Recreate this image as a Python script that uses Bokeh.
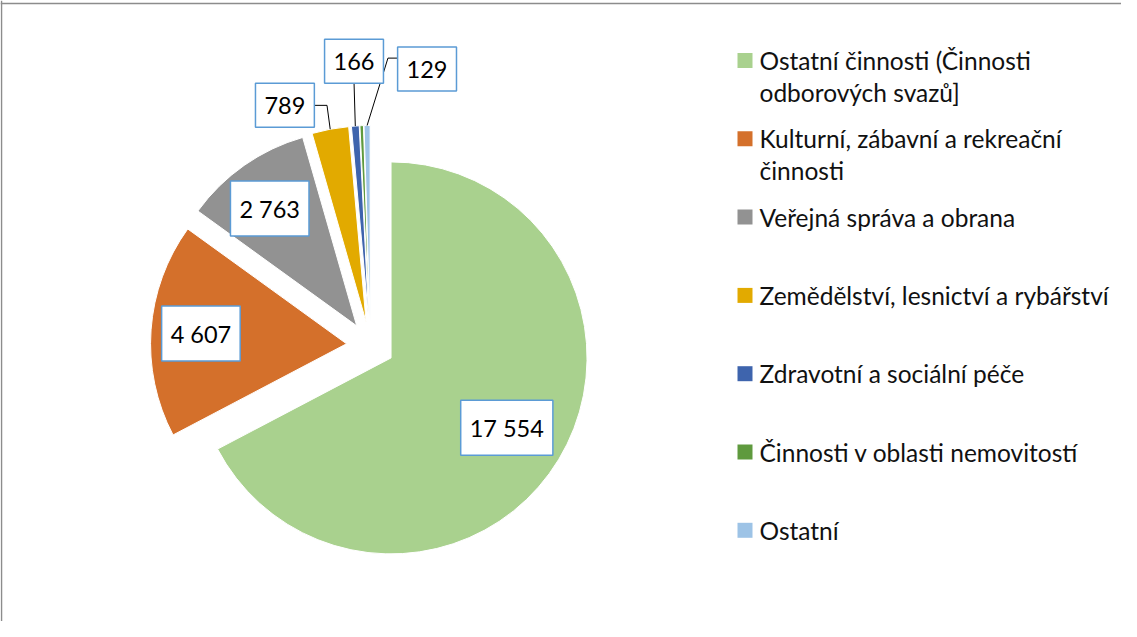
import math
import textwrap
from bokeh.plotting import figure
from bokeh.models import Range1d, Span
from bokeh.core.properties import value
from bokeh.embed import file_html
from bokeh.resources import INLINE

# ---------------- data ----------------
categories = [
    "Ostatní činnosti (Činnosti odborových svazů]",
    "Kulturní, zábavní a rekreační činnosti",
    "Veřejná správa a obrana",
    "Zemědělství, lesnictví a rybářství",
    "Zdravotní a sociální péče",
    "Činnosti v oblasti nemovitostí",
    "Ostatní",
]
values = [17554, 4607, 2763, 789, 166, 75, 129]
show_label = [True, True, True, True, True, False, True]

# ---------------- style ----------------
colors = ["#A9D18E", "#D4702B", "#929292", "#E2AA00", "#3E64AD", "#5F9A3E", "#9DC3E6"]
# label placement (radial fraction of radius, clockwise angular shift in degrees)
label_frac = [0.69, 0.745, 0.745, 1.18, 1.33, 1.3, 1.32]
label_shift = [0, 0, -1.5, -10, 0.7, 0, 13.6]

W, H = 1121, 621
CX, CY, R, EXPLODE = 370, 276, 196, 24
FONT = "Lato"
FS_LABEL = 23.5
FS_LEGEND = 24.5

p = figure(width=W, height=H, output_backend="svg", toolbar_location=None,
           x_range=Range1d(0, W), y_range=Range1d(0, H), min_border=0)
p.axis.visible = False
p.grid.visible = False
p.outline_line_color = None
p.background_fill_color = "white"
p.border_fill_color = "white"

# chart frame (left and top edges visible)
p.add_layout(Span(location=1, dimension="height", line_color="#8C8C8C", line_width=1.5))
p.add_layout(Span(location=H - 3, dimension="width", line_color="#8C8C8C", line_width=1.5))

total = float(sum(values))
cum = 0.0
wx, wy, sa, ea = [], [], [], []
lab_x, lab_y, lab_t = [], [], []
lead_xs, lead_ys = [], []
for i, v in enumerate(values):
    f = v / total
    a_start = 90 - 360 * cum          # math degrees
    a_end = 90 - 360 * (cum + f)
    mid = math.radians((a_start + a_end) / 2)
    ax = CX + EXPLODE * math.cos(mid)
    ay = CY + EXPLODE * math.sin(mid)
    wx.append(ax); wy.append(ay)
    sa.append(math.radians(a_end)); ea.append(math.radians(a_start))
    cum += f
    if not show_label[i]:
        continue
    la = mid - math.radians(label_shift[i])
    lx = ax + label_frac[i] * R * math.cos(la)
    ly = ay + label_frac[i] * R * math.sin(la)
    txt = f"{v:,}".replace(",", " ")
    lab_x.append(lx); lab_y.append(ly); lab_t.append(txt)
    if label_frac[i] > 1:
        ox = ax + R * math.cos(mid)
        oy = ay + R * math.sin(mid)
        hw = (len(txt) * 13.4 + 18) / 2
        hh = 20.5
        if abs(ox - lx) < hw:
            lead_xs.append([ox, lx]); lead_ys.append([oy, ly - hh])
        elif ox > lx:
            lead_xs.append([ox, lx + hw + 13, lx + hw]); lead_ys.append([oy, ly, ly])
        else:
            lead_xs.append([ox, lx - hw - 10, lx - hw]); lead_ys.append([oy, ly + 11, ly + 11])

p.wedge(x=wx, y=wy, radius=R, start_angle=sa, end_angle=ea,
        fill_color=colors, line_color="white", line_width=1)

p.multi_line(xs=lead_xs, ys=lead_ys, line_color="black", line_width=1)

p.text(x=lab_x, y=lab_y, text=lab_t, text_font=value(FONT), text_font_size=f"{FS_LABEL}px",
       text_align="center", text_baseline="middle", text_color="black",
       background_fill_color="white", border_line_color="#5B9BD5", border_line_width=1.5,
       padding=dict(left=9, right=9, top=14, bottom=13))

# ---------------- legend ----------------
LEG_SQ_X, LEG_TX_X, LEG_TOP, LEG_STEP, LINE_H = 744.5, 759, 561, 78.3, 32
sq_x, sq_y, t_x, t_y, t_t = [], [], [], [], []
for i, c in enumerate(categories):
    y0 = LEG_TOP - i * LEG_STEP
    sq_x.append(LEG_SQ_X); sq_y.append(y0)
    for k, line in enumerate(textwrap.wrap(c, 34)):
        t_x.append(LEG_TX_X); t_y.append(y0 - k * LINE_H); t_t.append(line)
p.rect(x=sq_x, y=sq_y, width=15, height=15, fill_color=colors, line_color=None)
p.text(x=t_x, y=t_y, text=t_t, text_font=value(FONT), text_font_size=f"{FS_LEGEND}px",
       text_align="left", text_baseline="middle", text_color="#111111")

open("out.html", "w").write(file_html(p, INLINE))
